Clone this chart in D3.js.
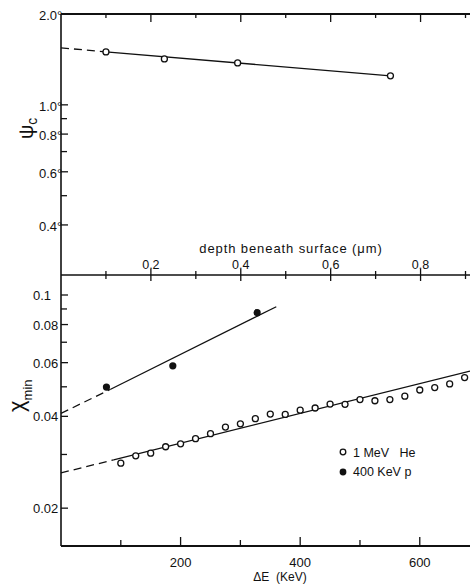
<!DOCTYPE html>
<html>
<head>
<meta charset="utf-8">
<script src="https://cdn.jsdelivr.net/npm/d3@7"></script>
<style>
  body { margin: 0; background: #fff; }
  svg { display: block; font-family: "Liberation Sans", Arial, sans-serif; }
</style>
</head>
<body>
<svg width="470" height="586"></svg>
<script>
// верхняя панель: psi_c от глубины
const depthVals = [0.1, 0.23, 0.393, 0.733];
const psiVals = [1.498, 1.42, 1.377, 1.248];
const psiFitDash = [[0, 1.545], [0.1, 1.498]];
const psiFitSolid = [[0.1, 1.498], [0.733, 1.248]];
const psiTicksMajor = [2.0, 1.0, 0.8, 0.6, 0.4];
const psiTicksMinor = [0.9, 0.7, 0.5];
const depthTicksMajor = [0.2, 0.4, 0.6, 0.8];
const depthTicksMinor = [0.1, 0.3, 0.5, 0.7, 0.9];

// нижняя панель: chi_min от dE
const heE = [100, 125, 150, 175, 200, 225, 250, 275, 300, 325, 350, 375,
             400, 425, 450, 475, 500, 525, 550, 575, 600, 625, 650, 675];
const heChi = [0.0281, 0.0297, 0.0303, 0.0318, 0.0325, 0.0338, 0.0351, 0.0369,
               0.0378, 0.0393, 0.0407, 0.0406, 0.0419, 0.0426, 0.0439, 0.0438,
               0.0454, 0.0450, 0.0454, 0.0466, 0.0488, 0.0497, 0.0511, 0.0536];
const pE = [76, 187, 328];
const pChi = [0.0499, 0.0586, 0.0875];
const heFitDash = [[0, 0.0261], [88, 0.0288]];
const heFitSolid = [[88, 0.0288], [684, 0.0563]];
const pFitDash = [[0, 0.0409], [83, 0.0491]];
const pFitSolid = [[83, 0.0491], [360, 0.0915]];
const chiTicksMajor = [0.1, 0.08, 0.06, 0.04, 0.02];
const chiTicksMinor = [0.09, 0.07, 0.05, 0.03];
const eTicksMajor = [200, 400, 600];
const eTicksMinor = [100, 300, 500];

const svg = d3.select("svg");
const area = { left: 61, right: 470, top: 14, mid: 275, bottom: 546 };

const xDepth = d3.scaleLinear().domain([0, 0.91]).range([area.left, area.right]);
const yPsi = d3.scaleLog().domain([2.0, 0.273]).range([area.top, area.mid]);
const xE = d3.scaleLinear().domain([0, 684]).range([area.left, area.right]);
const yChi = d3.scaleLog().domain([0.1163, 0.01503]).range([area.mid, area.bottom]);

const ink = "#111";

// рамка
svg.append("line").attr("x1", area.left).attr("x2", area.left)
  .attr("y1", area.top).attr("y2", area.bottom)
  .attr("stroke", ink).attr("stroke-width", 1.6);
[[area.top, 2], [area.mid, 1.5], [area.bottom, 1.8]].forEach(([y, w]) => {
  svg.append("line").attr("x1", area.left).attr("x2", area.right)
    .attr("y1", y).attr("y2", y).attr("stroke", ink).attr("stroke-width", w);
});

function ticks(list, fn, w) {
  list.forEach(v => {
    const [x1, y1, x2, y2] = fn(v);
    svg.append("line").attr("x1", x1).attr("y1", y1).attr("x2", x2).attr("y2", y2)
      .attr("stroke", ink).attr("stroke-width", w || 1.3);
  });
}

// верхняя рамка, тики вниз
ticks(depthTicksMajor, v => [xDepth(v), area.top, xDepth(v), area.top + 8]);
ticks(depthTicksMinor, v => [xDepth(v), area.top, xDepth(v), area.top + 4]);
// ось глубины, тики через линию
ticks(depthTicksMajor, v => [xDepth(v), area.mid - 6, xDepth(v), area.mid + 6]);
ticks(depthTicksMinor, v => [xDepth(v), area.mid - 4, xDepth(v), area.mid + 4]);
// левая ось
ticks(psiTicksMajor, v => [area.left, yPsi(v), area.left + 7, yPsi(v)]);
ticks(psiTicksMinor, v => [area.left, yPsi(v), area.left + 6, yPsi(v)]);
ticks(chiTicksMajor, v => [area.left, yChi(v), area.left + 7, yChi(v)]);
ticks(chiTicksMinor, v => [area.left, yChi(v), area.left + 6, yChi(v)]);
// нижняя ось
ticks(eTicksMajor, v => [xE(v), area.bottom, xE(v), area.bottom - 9]);
ticks(eTicksMinor, v => [xE(v), area.bottom, xE(v), area.bottom - 6]);

// подписи
const fmt1 = d3.format(".1f");
psiTicksMajor.forEach(v => {
  svg.append("text").attr("x", 39).attr("y", yPsi(v) + 6)
    .attr("font-size", 13).attr("fill", ink).text(fmt1(v) + "°");
});
chiTicksMajor.forEach(v => {
  svg.append("text").attr("x", 33).attr("y", yChi(v) + 5)
    .attr("font-size", 13).attr("fill", ink).text(v === 0.1 ? "0.1" : d3.format(".2f")(v));
});
depthTicksMajor.forEach(v => {
  svg.append("text").attr("x", xDepth(v)).attr("y", 269).attr("text-anchor", "middle")
    .attr("font-size", 12.5).attr("fill", ink).text(fmt1(v));
});
eTicksMajor.forEach(v => {
  svg.append("text").attr("x", xE(v)).attr("y", 567).attr("text-anchor", "middle")
    .attr("font-size", 13).attr("fill", ink).text(v);
});

svg.append("text").attr("x", 291).attr("y", 253).attr("text-anchor", "middle")
  .attr("font-size", 13).attr("letter-spacing", 0.9).attr("fill", ink)
  .text("depth beneath surface (μm)");
svg.append("text").attr("x", 280).attr("y", 581).attr("text-anchor", "middle")
  .attr("font-size", 12).attr("fill", ink).attr("xml:space", "preserve")
  .text("ΔE  (KeV)");

const psiLab = svg.append("text").attr("transform", "translate(33,139) rotate(-90)")
  .attr("font-size", 20).attr("fill", ink);
psiLab.append("tspan").text("ψ");
psiLab.append("tspan").attr("dy", 4).attr("font-size", 14).text("c");

const chiLab = svg.append("text").attr("transform", "translate(24,412) rotate(-90)")
  .attr("font-size", 22).attr("fill", ink);
chiLab.append("tspan").text("χ");
chiLab.append("tspan").attr("dy", 8).attr("font-size", 13).text("min");

// линии аппроксимации
const lineTop = d3.line().x(d => xDepth(d[0])).y(d => yPsi(d[1]));
const lineBot = d3.line().x(d => xE(d[0])).y(d => yChi(d[1]));

svg.append("path").attr("d", lineTop(psiFitDash)).attr("fill", "none")
  .attr("stroke", ink).attr("stroke-width", 1.3).attr("stroke-dasharray", "8,5");
svg.append("path").attr("d", lineTop(psiFitSolid)).attr("fill", "none")
  .attr("stroke", ink).attr("stroke-width", 1.3);

[heFitDash, pFitDash].forEach(seg => {
  svg.append("path").attr("d", lineBot(seg)).attr("fill", "none")
    .attr("stroke", ink).attr("stroke-width", 1.3).attr("stroke-dasharray", "8,5");
});
[heFitSolid, pFitSolid].forEach(seg => {
  svg.append("path").attr("d", lineBot(seg)).attr("fill", "none")
    .attr("stroke", ink).attr("stroke-width", 1.3);
});

// точки
svg.selectAll(".psi").data(depthVals).enter().append("circle")
  .attr("cx", d => xDepth(d)).attr("cy", (d, i) => yPsi(psiVals[i])).attr("r", 3)
  .attr("fill", "#fff").attr("stroke", ink).attr("stroke-width", 1.3);

svg.selectAll(".he").data(heE).enter().append("circle")
  .attr("cx", d => xE(d)).attr("cy", (d, i) => yChi(heChi[i])).attr("r", 3)
  .attr("fill", "#fff").attr("stroke", ink).attr("stroke-width", 1.3);

svg.selectAll(".p").data(pE).enter().append("circle")
  .attr("cx", d => xE(d)).attr("cy", (d, i) => yChi(pChi[i])).attr("r", 3.6)
  .attr("fill", ink);

// легенда
svg.append("circle").attr("cx", 343).attr("cy", 452).attr("r", 2.8)
  .attr("fill", "#fff").attr("stroke", ink).attr("stroke-width", 1.3);
svg.append("circle").attr("cx", 343).attr("cy", 472).attr("r", 3.4).attr("fill", ink);
svg.append("text").attr("x", 353).attr("y", 457).attr("font-size", 12.5).attr("fill", ink)
  .attr("xml:space", "preserve").text("1 MeV   He");
svg.append("text").attr("x", 353).attr("y", 476).attr("font-size", 12.5).attr("fill", ink)
  .text("400 KeV p");
</script>
</body>
</html>
